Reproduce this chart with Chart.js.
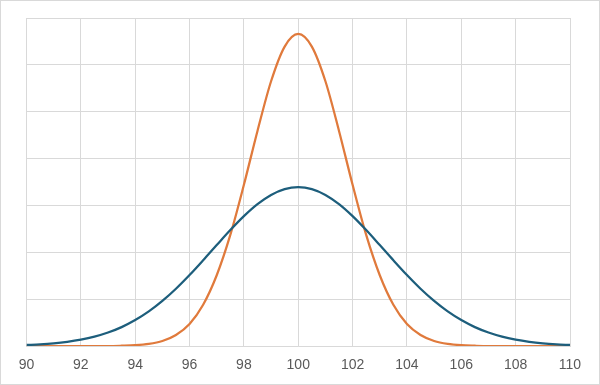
<!DOCTYPE html>
<html>
<head>
<meta charset="utf-8">
<script src="https://cdn.jsdelivr.net/npm/chart.js@4/dist/chart.umd.min.js"></script>
<style>
  html, body { margin: 0; padding: 0; background: #fff; }
  #wrap { width: 598px; height: 383px; border: 1px solid #d9d9d9; }
</style>
</head>
<body>
<div id="wrap"><canvas id="chart" width="598" height="383"></canvas></div>
<script>
// x positions (0.5 step)
const xValues = [
    90, 90.5, 91, 91.5, 92, 92.5, 93, 93.5, 94, 94.5,
    95, 95.5, 96, 96.5, 97, 97.5, 98, 98.5, 99, 99.5,
    100, 100.5, 101, 101.5, 102, 102.5, 103, 103.5, 104, 104.5,
    105, 105.5, 106, 106.5, 107, 107.5, 108, 108.5, 109, 109.5, 110
];

// wide curve (blue)
const wideCurve = [
    0.022, 0.036, 0.057, 0.089, 0.135, 0.199, 0.287, 0.403, 0.553, 0.738,
    0.962, 1.222, 1.514, 1.829, 2.154, 2.474, 2.771, 3.027, 3.224, 3.348,
    3.39, 3.348, 3.224, 3.027, 2.771, 2.474, 2.154, 1.829, 1.514, 1.222,
    0.962, 0.738, 0.553, 0.403, 0.287, 0.199, 0.135, 0.089, 0.057, 0.036, 0.022
];

// narrow curve (orange)
const narrowCurve = [
    0, 0, 0, 0, 0, 0, 0, 0.006, 0.017, 0.045,
    0.107, 0.235, 0.47, 0.88, 1.51, 2.37, 3.44, 4.59, 5.65, 6.39,
    6.66, 6.39, 5.65, 4.59, 3.44, 2.37, 1.51, 0.88, 0.47, 0.235,
    0.107, 0.045, 0.017, 0.006, 0, 0, 0, 0, 0, 0, 0
];

const xTickMin = 90;
const xTickMax = 110;
const xTickStep = 2;
const yMax = 7;

const gridColor = '#d9d9d9';

function toPoints(values) {
    return xValues.map((x, i) => ({ x: x, y: values[i] }));
}

new Chart(document.getElementById('chart'), {
    type: 'line',
    data: {
        datasets: [
            {
                label: 'Wide',
                data: toPoints(wideCurve),
                borderColor: '#1d5e7c',
                borderWidth: 2.25,
                pointRadius: 0,
                cubicInterpolationMode: 'monotone',
                fill: false
            },
            {
                label: 'Narrow',
                data: toPoints(narrowCurve),
                borderColor: '#e07a3c',
                borderWidth: 2.25,
                pointRadius: 0,
                cubicInterpolationMode: 'monotone',
                fill: false
            }
        ]
    },
    options: {
        responsive: false,
        animation: false,
        layout: {
            padding: { left: 25.5, right: 29, top: 17, bottom: 0 }
        },
        plugins: {
            legend: { display: false },
            tooltip: { enabled: false }
        },
        scales: {
            x: {
                type: 'linear',
                min: xTickMin,
                max: xTickMax,
                ticks: {
                    stepSize: xTickStep,
                    color: '#595959',
                    font: { family: 'Liberation Sans', size: 14 },
                    padding: 11,
                    maxRotation: 0
                },
                grid: { color: gridColor, drawTicks: false },
                border: { color: gridColor },
                afterFit: scale => { scale.height = 38; }
            },
            y: {
                min: 0,
                max: yMax,
                ticks: { stepSize: 1, display: false },
                grid: { color: gridColor, drawTicks: false },
                border: { display: false },
                afterFit: scale => { scale.width = 0; }
            }
        }
    }
});
</script>
</body>
</html>
